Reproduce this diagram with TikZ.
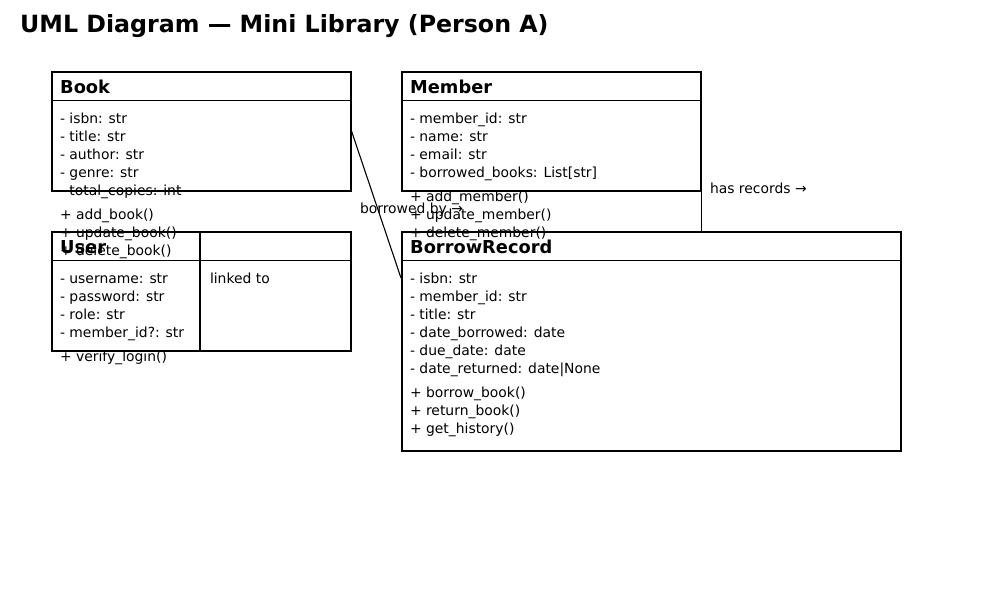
\documentclass[tikz,border=0pt]{standalone}
\usepackage{fontspec}
\setmainfont{DejaVu Sans}
\usetikzlibrary{positioning}
\tikzstyle{classbox} = [draw, line width=1.6pt, inner sep=0pt, anchor=north west]
\tikzstyle{classname} = [inner sep=0pt, anchor=base west, font=\bfseries\fontsize{17.8}{21}\selectfont]
\tikzstyle{member} = [inner xsep=0pt, inner ysep=2pt, outer sep=0pt, text height=10.5pt, text depth=3.5pt, anchor=north west, font=\fontsize{13.9}{18}\selectfont]
\tikzstyle{sep} = [line width=0.8pt]
\tikzstyle{assoc} = [line width=1.1pt]

\begin{document}
\begin{tikzpicture}[x=1pt, y=-1pt]
    \useasboundingbox (0,0) rectangle (1000,600);

    \node (title) [inner sep=0pt, anchor=base west, font=\bfseries\fontsize{23.7}{28}\selectfont] at (20,32) {UML Diagram — Mini Library (Person A)};

    % Book
    \node (book) [classbox, minimum width=299pt, minimum height=119pt] at (51,71) {};
    \node (book-name) [classname] at ([xshift=9pt,yshift=-22pt]book.north west) {Book};
    \draw [sep] ([yshift=-29pt]book.north west) -- ([yshift=-29pt]book.north east);
    \node (book-a1) [member] at ([xshift=9pt,yshift=-40pt]book.north west) {- isbn: str};
    \node (book-a2) [member] at (book-a1.south west) {- title: str};
    \node (book-a3) [member] at (book-a2.south west) {- author: str};
    \node (book-a4) [member] at (book-a3.south west) {- genre: str};
    \node (book-a5) [member] at (book-a4.south west) {- total\_copies: int};
    \node (book-m1) [member] at ([yshift=-6pt]book-a5.south west) {+ add\_book()};
    \node (book-m2) [member] at (book-m1.south west) {+ update\_book()};
    \node (book-m3) [member] at (book-m2.south west) {+ delete\_book()};

    % Member
    \node (memb) [classbox, minimum width=299pt, minimum height=119pt] at (401,71) {};
    \node (memb-name) [classname] at ([xshift=9pt,yshift=-22pt]memb.north west) {Member};
    \draw [sep] ([yshift=-29pt]memb.north west) -- ([yshift=-29pt]memb.north east);
    \node (memb-a1) [member] at ([xshift=9pt,yshift=-40pt]memb.north west) {- member\_id: str};
    \node (memb-a2) [member] at (memb-a1.south west) {- name: str};
    \node (memb-a3) [member] at (memb-a2.south west) {- email: str};
    \node (memb-a4) [member] at (memb-a3.south west) {- borrowed\_books: List[str]};
    \node (memb-m1) [member] at ([yshift=-6pt]memb-a4.south west) {+ add\_member()};
    \node (memb-m2) [member] at (memb-m1.south west) {+ update\_member()};
    \node (memb-m3) [member] at (memb-m2.south west) {+ delete\_member()};

    % User
    \node (user) [classbox, minimum width=299pt, minimum height=119pt] at (51,231) {};
    \node (user-name) [classname] at ([xshift=9pt,yshift=-22pt]user.north west) {User};
    \draw [sep] ([yshift=-29pt]user.north west) -- ([yshift=-29pt]user.north east);
    \draw [line width=1.6pt] ([xshift=149pt]user.north west) -- ([xshift=149pt]user.south west);
    \node (user-a1) [member] at ([xshift=9pt,yshift=-40pt]user.north west) {- username: str};
    \node (user-a2) [member] at (user-a1.south west) {- password: str};
    \node (user-a3) [member] at (user-a2.south west) {- role: str};
    \node (user-a4) [member] at (user-a3.south west) {- member\_id?: str};
    \node (user-m1) [member] at ([yshift=-6pt]user-a4.south west) {+ verify\_login()};
    \node (linked) [member] at ([xshift=159pt,yshift=-40pt]user.north west) {linked to};

    % BorrowRecord
    \node (rec) [classbox, minimum width=499pt, minimum height=219pt] at (401,231) {};
    \node (rec-name) [classname] at ([xshift=9pt,yshift=-22pt]rec.north west) {BorrowRecord};
    \draw [sep] ([yshift=-29pt]rec.north west) -- ([yshift=-29pt]rec.north east);
    \node (rec-a1) [member] at ([xshift=9pt,yshift=-40pt]rec.north west) {- isbn: str};
    \node (rec-a2) [member] at (rec-a1.south west) {- member\_id: str};
    \node (rec-a3) [member] at (rec-a2.south west) {- title: str};
    \node (rec-a4) [member] at (rec-a3.south west) {- date\_borrowed: date};
    \node (rec-a5) [member] at (rec-a4.south west) {- due\_date: date};
    \node (rec-a6) [member] at (rec-a5.south west) {- date\_returned: date|None};
    \node (rec-m1) [member] at ([yshift=-6pt]rec-a6.south west) {+ borrow\_book()};
    \node (rec-m2) [member] at (rec-m1.south west) {+ return\_book()};
    \node (rec-m3) [member] at (rec-m2.south west) {+ get\_history()};

    % associations
    \draw [assoc] (book.east) -- ([yshift=-47pt]rec.north west);
    \node (borrowed) [member] at (360,201) {borrowed by →};
    \draw [assoc] (memb.east) -- (memb.east |- rec.north);
    \node (records) [member] at (710,181) {has records →};
\end{tikzpicture}
\end{document}
